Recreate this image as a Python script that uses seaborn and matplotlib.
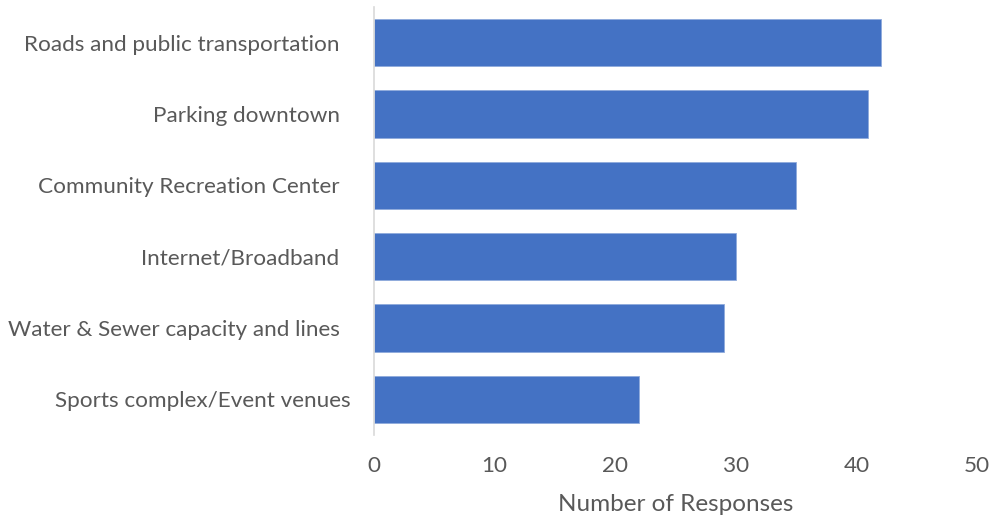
import seaborn as sns
import matplotlib.pyplot as plt

categories = [
    "Roads and public transportation  ",
    "Parking downtown  ",
    "Community Recreation Center  ",
    "Internet/Broadband  ",
    "Water & Sewer capacity and lines  ",
    "Sports complex/Event venues",
]
responses = [42, 41, 35, 30, 29, 22]
xticks = [0, 10, 20, 30, 40, 50]

sns.set_style("white")
plt.rcParams["font.family"] = ["Lato", "DejaVu Sans"]

fig = plt.figure(figsize=(9.92, 5.18), dpi=100)
ax = fig.add_axes([374 / 992, 1 - 435 / 518, (977 - 374) / 992, 428 / 518])

sns.barplot(x=responses, y=categories, orient="h", color="#4472C4",
            saturation=1, width=0.66, edgecolor="#8FAADC", linewidth=0.6, ax=ax)

ax.set_xlim(0, 50)
ax.set_ylim(5.5, -0.5)
ax.set_xticks(xticks)
ax.set_xticklabels([str(t) for t in xticks])
ax.tick_params(axis="both", length=0, labelsize=16.2, colors="#595959")
ax.tick_params(axis="y", pad=16.5)
ax.tick_params(axis="x", pad=15)
ax.set_xlabel("Number of Responses", fontsize=17.5, color="#595959", labelpad=13)
ax.set_ylabel("")

for s in ["top", "right", "bottom"]:
    ax.spines[s].set_visible(False)
ax.spines["left"].set_color("#D9D9D9")
ax.spines["left"].set_linewidth(1.2)

fig.savefig("out.png", dpi=100)
